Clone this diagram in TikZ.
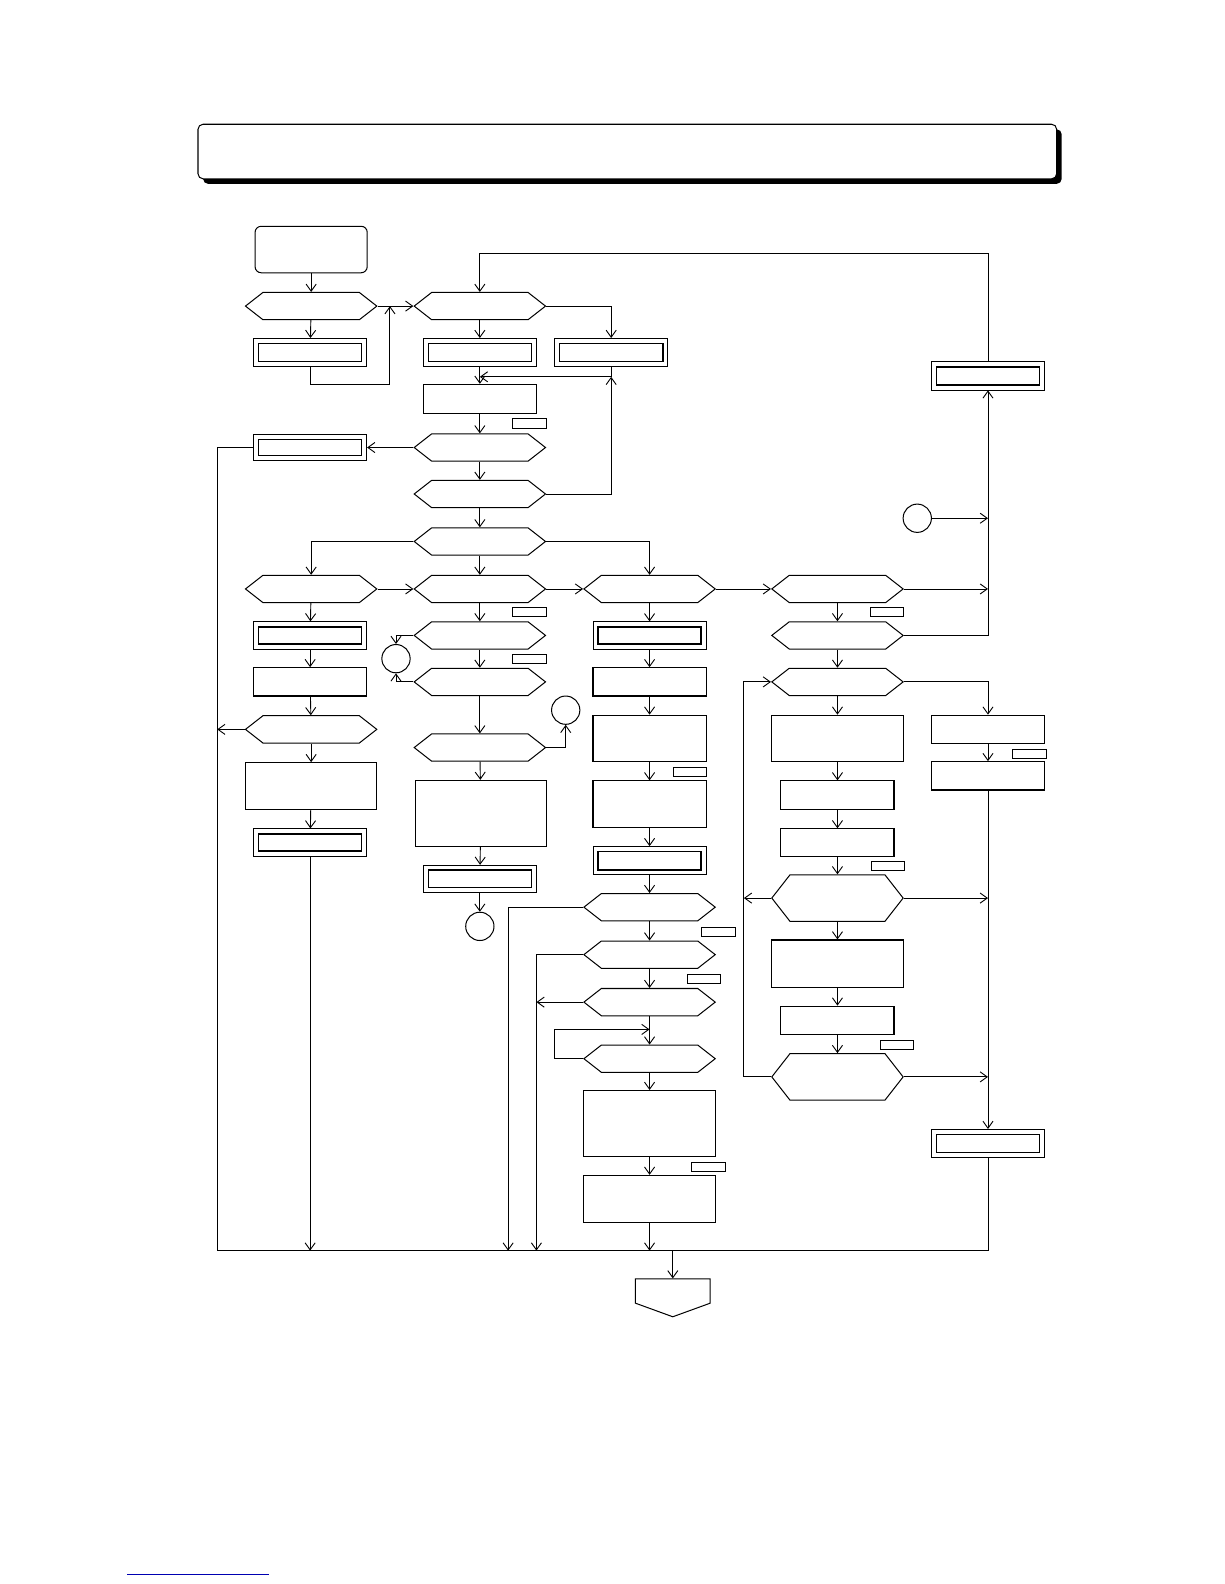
\documentclass[tikz,border=0pt]{standalone}
\usepackage{tikz}
\usetikzlibrary{
  arrows.meta,
  positioning,
  shapes.symbols,
  shadows
}
\tikzset{
  procnode/.style={draw,line width=1.1pt,minimum width=112pt,minimum height=28pt,inner sep=0pt},
  widenode/.style={procnode,minimum width=130pt,minimum height=46pt},
  dblnode/.style={draw,line width=0.8pt,minimum width=112pt,minimum height=28pt,inner sep=0pt,
    path picture={\draw[line width=1.6pt] ([xshift=5pt,yshift=-5pt]path picture bounding box.north west) rectangle ([xshift=-5pt,yshift=5pt]path picture bounding box.south east);}},
  hexnode/.style={draw,line width=1pt,shape=signal,signal to=east and west,signal pointer angle=76,minimum width=130pt,minimum height=27pt,inner sep=0pt},
  tallhex/.style={hexnode,minimum height=46pt,signal pointer angle=104},
  startnode/.style={draw,line width=1pt,rounded corners=6pt,minimum width=111pt,minimum height=46pt,inner sep=0pt},
  connnode/.style={draw,circle,line width=1pt,minimum size=28pt,inner sep=0pt},
  tagnode/.style={draw,line width=0.6pt,minimum width=33pt,minimum height=9pt,inner sep=0pt},
  pagenode/.style={draw,line width=1pt,shape=signal,signal to=south,signal from=nowhere,signal pointer angle=140,minimum width=74pt,minimum height=24pt,inner sep=0pt},
  titlebar/.style={draw,line width=1pt,fill=white,rounded corners=5pt,minimum width=850pt,minimum height=54pt,
    general shadow={fill=black,shadow xshift=5pt,shadow yshift=-5pt}},
  flow/.style={-{Straight Barb[length=7pt,width=10pt]},line width=0.9pt},
  link/.style={line width=0.9pt}
}

\begin{document}
\begin{tikzpicture}[x=1pt,y=-1pt]
\useasboundingbox (0,0) rectangle (1212,1568);

\node[titlebar] (title) at (621,150) {};

% column A
\node[startnode] (start) at (308,247) {};
\node[hexnode] (hA1) at (308,303) {};
\node[dblnode] (dA1) at (307,349) {};
\node[dblnode,minimum height=26pt] (dA2) at (307,443) {};
\node[hexnode] (hA3) at (308,583) {};
\node[dblnode,minimum height=27pt] (dA4) at (307,629) {};
\node[procnode] (bA5) at (307,675) {};
\node[hexnode] (hA6) at (308,722) {};
\node[widenode] (bA7) at (308,778) {};
\node[dblnode,minimum height=27pt] (dA8) at (307,834) {};

% column B
\node[hexnode] (hB1) at (475,303) {};
\node[dblnode] (dB1) at (475,349) {};
\node[dblnode] (dC0) at (605,349) {};
\node[procnode,minimum height=29pt] (bB2) at (475,395) {};
\node[tagnode] (tgB2) at (524,419) {};
\node[hexnode] (hB3) at (475,443) {};
\node[hexnode] (hB4) at (475,489) {};
\node[hexnode] (hB5) at (475,536) {};
\node[hexnode] (hB6) at (475,583) {};
\node[tagnode] (tgB7) at (524,606) {};
\node[hexnode] (hB7) at (475,629) {};
\node[tagnode] (tgB8) at (524,652) {};
\node[hexnode] (hB8) at (475,675) {};
\node[connnode] (cB) at (392,652) {};
\node[hexnode] (hB9) at (475,740) {};
\node[connnode] (cB2) at (560,703) {};
\node[widenode,minimum height=65pt] (bB10) at (476,805) {};
\node[dblnode,minimum height=27pt] (dB11) at (475,870) {};
\node[connnode] (cB3) at (475,917) {};

% column C
\node[hexnode] (hC1) at (643,583) {};
\node[dblnode,minimum height=27pt] (dC2) at (643,629) {};
\node[procnode] (bC3) at (643,675) {};
\node[procnode,minimum height=46pt] (bC4) at (643,731) {};
\node[tagnode] (tgC5) at (683,764) {};
\node[procnode,minimum height=46pt] (bC5) at (643,796) {};
\node[dblnode] (dC6) at (643,852) {};
\node[hexnode] (hC7) at (643,898) {};
\node[tagnode] (tgC8) at (711,922) {};
\node[hexnode] (hC8) at (643,945) {};
\node[tagnode] (tgC9) at (697,969) {};
\node[hexnode] (hC9) at (643,992) {};
\node[hexnode] (hC10) at (643,1048) {};
\node[widenode,minimum width=131pt,minimum height=65pt] (bC11) at (643,1112) {};
\node[tagnode] (tgC12) at (701,1155) {};
\node[widenode,minimum width=131pt,minimum height=47pt] (bC12) at (643,1187) {};
\node[pagenode] (pageend) at (666,1278) {};

% column D
\node[hexnode] (hD1) at (829,583) {};
\node[tagnode] (tgD2) at (878,606) {};
\node[hexnode] (hD2) at (829,629) {};
\node[hexnode] (hD3) at (829,675) {};
\node[widenode] (bD4) at (829,731) {};
\node[procnode] (bD5) at (829,787) {};
\node[procnode,minimum height=27pt] (bD6) at (829,834) {};
\node[tagnode] (tgD7) at (879,857) {};
\node[tallhex] (hD7) at (829,889) {};
\node[widenode,minimum height=47pt] (bD8) at (829,954) {};
\node[procnode] (bD9) at (829,1010) {};
\node[tagnode] (tgD10) at (888,1034) {};
\node[tallhex] (hD10) at (829,1066) {};

% column E
\node[dblnode] (dE1) at (978,372) {};
\node[connnode] (cE) at (908,513) {};
\node[procnode] (bE2) at (978,722) {};
\node[tagnode] (tgE3) at (1019,746) {};
\node[procnode] (bE3) at (978,768) {};
\node[dblnode] (dE4) at (978,1132) {};

% junctions
\coordinate (jA) at (386,303);
\coordinate (jB) at (475,373);
\coordinate (jC) at (605,373);
\coordinate (jC10) at (643,1019);
\coordinate (busL) at (215,1238);
\coordinate (busR) at (978,1238);
\coordinate (busC7) at (503,1238);
\coordinate (busC8) at (531,1238);

% top part
\draw[flow] (start) -- (hA1);
\draw[flow] (hA1) -- (dA1);
\draw[flow] (hA1.east) -- (hB1.west);
\draw[flow] (dA1.south) -- ++(0,17) -| (jA);
\draw[flow] (dE1.north) -- ++(0,-107) -| (hB1.north);
\draw[flow] (hB1.east) -| (dC0.north);
\draw[flow] (hB1) -- (dB1);
\draw[flow] (dB1) -- (bB2);
\draw[link] (dC0.south) -- (jC);
\draw[flow] (jC) -- (jB);
\draw[flow] (hB4.east) -| (jC);
\draw[flow] (bB2) -- (hB3);
\draw[flow] (hB3.west) -- (dA2.east);
\draw[flow] (hB3) -- (hB4);
\draw[flow] (hB4) -- (hB5);
\draw[flow] (hB5.west) -| (hA3.north);
\draw[flow] (hB5.east) -| (hC1.north);
\draw[flow] (hB5) -- (hB6);

% middle row
\draw[flow] (hA3.east) -- (hB6.west);
\draw[flow] (hB6.east) -- (hC1.west);
\draw[flow] (hC1.east) -- (hD1.west);
\draw[flow] (hD1.east) -- (hD1.east -| dE1);

% column A
\draw[flow] (hA3) -- (dA4);
\draw[flow] (dA4) -- (bA5);
\draw[flow] (bA5) -- (hA6);
\draw[flow] (hA6) -- (bA7);
\draw[flow] (bA7) -- (dA8);
\draw[flow] (hA6.west) -- (hA6.west -| busL);
\draw[flow] (dA8.south) -- (dA8.south |- busL);

% column B
\draw[flow] (hB6) -- (hB7);
\draw[flow] (hB7) -- (hB8);
\draw[flow] (hB8) -- (hB9);
\draw[flow] (hB9) -- (bB10);
\draw[flow] (bB10) -- (dB11);
\draw[flow] (dB11) -- (cB3);
\draw[flow] (hB7.west) -| (cB.north);
\draw[flow] (hB8.west) -| (cB.south);
\draw[flow] (hB9.east) -| (cB2.south);

% column C
\draw[flow] (hC1) -- (dC2);
\draw[flow] (dC2) -- (bC3);
\draw[flow] (bC3) -- (bC4);
\draw[flow] (bC4) -- (bC5);
\draw[flow] (bC5) -- (dC6);
\draw[flow] (dC6) -- (hC7);
\draw[flow] (hC7) -- (hC8);
\draw[flow] (hC8) -- (hC9);
\draw[flow] (hC9) -- (hC10);
\draw[flow] (hC10) -- (bC11);
\draw[flow] (bC11) -- (bC12);
\draw[flow] (hC7.west) -| (busC7);
\draw[flow] (hC8.west) -| (busC8);
\draw[flow] (hC9.west) -- (hC9.west -| busC8);
\draw[flow] (hC10.west) -- ++(-28,0) |- (jC10);
\draw[flow] (bC12.south) -- (bC12.south |- busL);

% column D
\draw[flow] (hD1) -- (hD2);
\draw[flow] (hD2) -- (hD3);
\draw[flow] (hD3) -- (bD4);
\draw[flow] (bD4) -- (bD5);
\draw[flow] (bD5) -- (bD6);
\draw[flow] (bD6) -- (hD7);
\draw[flow] (hD7) -- (bD8);
\draw[flow] (bD8) -- (bD9);
\draw[flow] (bD9) -- (hD10);
\draw[flow] (hD7.west) -- ++(-27,0);
\draw[flow] (hD10.west) -- ++(-27,0) |- (hD3.west);

% column E
\draw[flow] (hD2.east) -| (dE1.south);
\draw[flow] (cE.east) -- (cE.east -| dE1);
\draw[flow] (hD3.east) -| (bE2.north);
\draw[flow] (bE2) -- (bE3);
\draw[flow] (bE3.south) -- (dE4.north);
\draw[flow] (hD7.east) -- (hD7.east -| dE4);
\draw[flow] (hD10.east) -- (hD10.east -| dE4);

% bus
\draw[link] (dA2.west) -| (busL) -- (busR) -- (dE4.south);
\draw[flow] (pageend.north |- busL) -- (pageend.north);

\draw[line width=1pt,blue!70!black] (126,1559) -- (266,1559);
\end{tikzpicture}
\end{document}
